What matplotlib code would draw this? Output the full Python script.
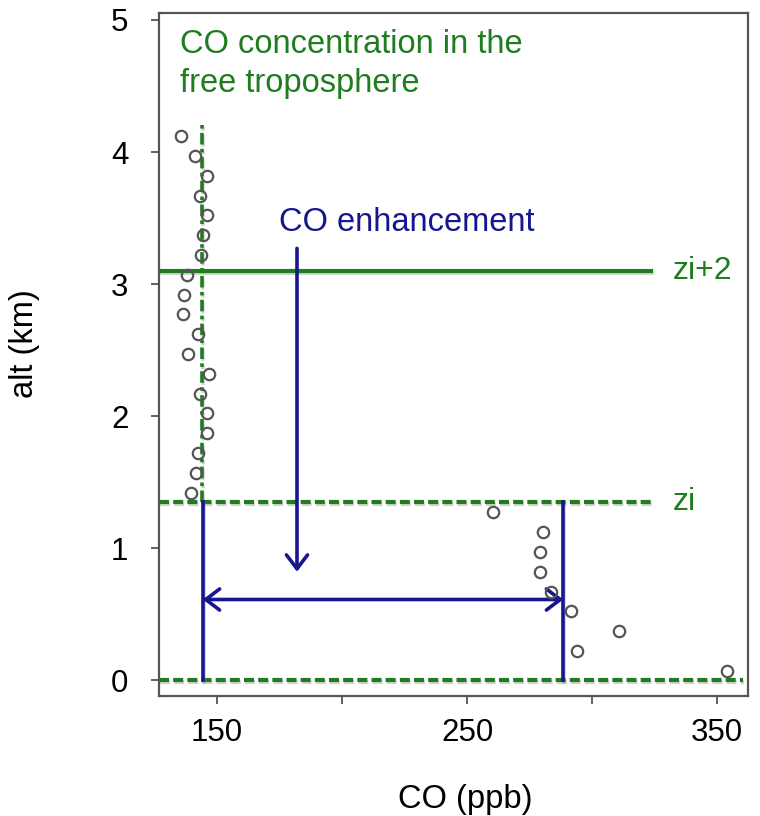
import matplotlib
matplotlib.use("Agg")
import matplotlib.pyplot as plt
import matplotlib.patheffects as pe

plt.rcParams['font.family'] = ['Liberation Sans', 'DejaVu Sans']

# ---- data ----
co_ppb = [135.5, 141.3, 145.9, 143.2, 145.9, 144.5, 143.6, 137.9, 136.8, 136.5,
          142.3, 138.5, 146.9, 143.2, 146.1, 145.9, 142.4, 141.6, 139.5,
          260.5, 280.3, 279.2, 279.2, 283.5, 291.5, 310.9, 294.1, 354.1]
alt_km = [4.12, 3.97, 3.82, 3.67, 3.52, 3.37, 3.22, 3.07, 2.92, 2.77,
          2.62, 2.47, 2.32, 2.17, 2.02, 1.87, 1.72, 1.57, 1.42,
          1.27, 1.12, 0.97, 0.82, 0.67, 0.52, 0.37, 0.22, 0.07]

x_ticks = [150, 200, 250, 300, 350]
x_tick_labels = ['150', '', '250', '', '350']
y_ticks = [0, 1, 2, 3, 4, 5]
y_tick_labels = ['0', '1', '2', '3', '4', '5']

zi = 1.35            # boundary-layer top (km)
zi_plus2 = 3.1       # upper reference level (km)
ground = 0.0
ft_co = 144.0        # free troposphere CO (ppb)
bl_co = 288.5        # boundary layer CO (ppb)
ft_line_top = 4.23
level_line_end = 324.4
arrow_x = 182.0
arrow_top, arrow_bottom = 3.27, 0.82
enh_arrow_y = 0.61

green = '#1f7d1f'
blue = '#16168f'
gray = '#555555'

fig = plt.figure(figsize=(7.6, 8.16), dpi=100)
ax = fig.add_axes([159/760, 1 - 696/816, (748-159)/760, (696-13)/816])
ax.set_xlim(126.8, 362.4)
ax.set_ylim(-0.121, 5.053)

shadow = [pe.SimpleLineShadow(offset=(0.6, -1.5), shadow_color='gray', alpha=0.35),
          pe.Normal()]

# green reference lines
ax.plot([ft_co, ft_co], [zi, ft_line_top], color=green, lw=2.6,
        linestyle=(0, (3.2, 1.2, 1.0, 1.2)), path_effects=shadow, zorder=2)
ax.plot([126.8, level_line_end], [zi_plus2, zi_plus2], color=green, lw=3.0,
        solid_capstyle='butt', path_effects=shadow, zorder=2)
ax.plot([126.8, level_line_end], [zi, zi], color=green, lw=3.0,
        linestyle=(0, (2.4, 1.0)), path_effects=shadow, zorder=2)
ax.plot([126.8, 360.4], [ground, ground], color=green, lw=3.0,
        linestyle=(0, (2.4, 1.0)), path_effects=shadow, zorder=2)

# blue lines and arrows
ax.plot([ft_co + 0.3, ft_co + 0.3], [ground, zi], color=blue, lw=2.6,
        path_effects=shadow, zorder=3)
ax.plot([bl_co, bl_co], [ground, zi], color=blue, lw=2.6,
        path_effects=shadow, zorder=3)
ax.annotate('', xy=(arrow_x, arrow_bottom), xytext=(arrow_x, arrow_top),
            arrowprops=dict(arrowstyle='->,head_length=0.5,head_width=0.38',
                            color=blue, lw=2.6, shrinkA=0, shrinkB=0,
                            mutation_scale=20), zorder=3)
ax.annotate('', xy=(ft_co + 0.3, enh_arrow_y), xytext=(bl_co, enh_arrow_y),
            arrowprops=dict(arrowstyle='<->,head_length=0.5,head_width=0.38',
                            color=blue, lw=2.6, shrinkA=0, shrinkB=0,
                            mutation_scale=20), zorder=3)

# data points
ax.plot(co_ppb, alt_km, linestyle='none', marker='o', markersize=8.2,
        markerfacecolor='none', markeredgecolor=gray, markeredgewidth=1.6,
        zorder=4)

# texts
ax.text(135.2, 4.75, 'CO concentration in the', color=green, fontsize=23.5,
        ha='left', va='baseline')
ax.text(135.2, 4.455, 'free troposphere', color=green, fontsize=23.5,
        ha='left', va='baseline')
ax.text(174.8, 3.40, 'CO enhancement', color=blue, fontsize=23.5,
        ha='left', va='baseline')
ax.text(332.4, 3.04, 'zi+2', color=green, fontsize=23, ha='left',
        va='baseline', clip_on=False)
ax.text(332.4, 1.29, 'zi', color=green, fontsize=23, ha='left',
        va='baseline', clip_on=False)

# axes styling
ax.set_xticks(x_ticks)
ax.set_xticklabels(x_tick_labels)
ax.set_yticks(y_ticks)
ax.set_yticklabels(y_tick_labels)
ax.tick_params(axis='both', direction='out', length=6, width=1.3,
               color=gray, labelsize=22.5, labelcolor='black')
ax.tick_params(axis='x', pad=10)
ax.tick_params(axis='y', pad=16)
for s in ax.spines.values():
    s.set_color(gray)
    s.set_linewidth(1.6)

fig.text(465/760, 1 - 808/816, 'CO (ppb)', fontsize=23.5, ha='center',
         va='baseline')
fig.text(24/760, 1 - 344/816, 'alt (km)', fontsize=23.5, ha='center',
         va='center', rotation=90)

fig.savefig('out.png', dpi=100)
